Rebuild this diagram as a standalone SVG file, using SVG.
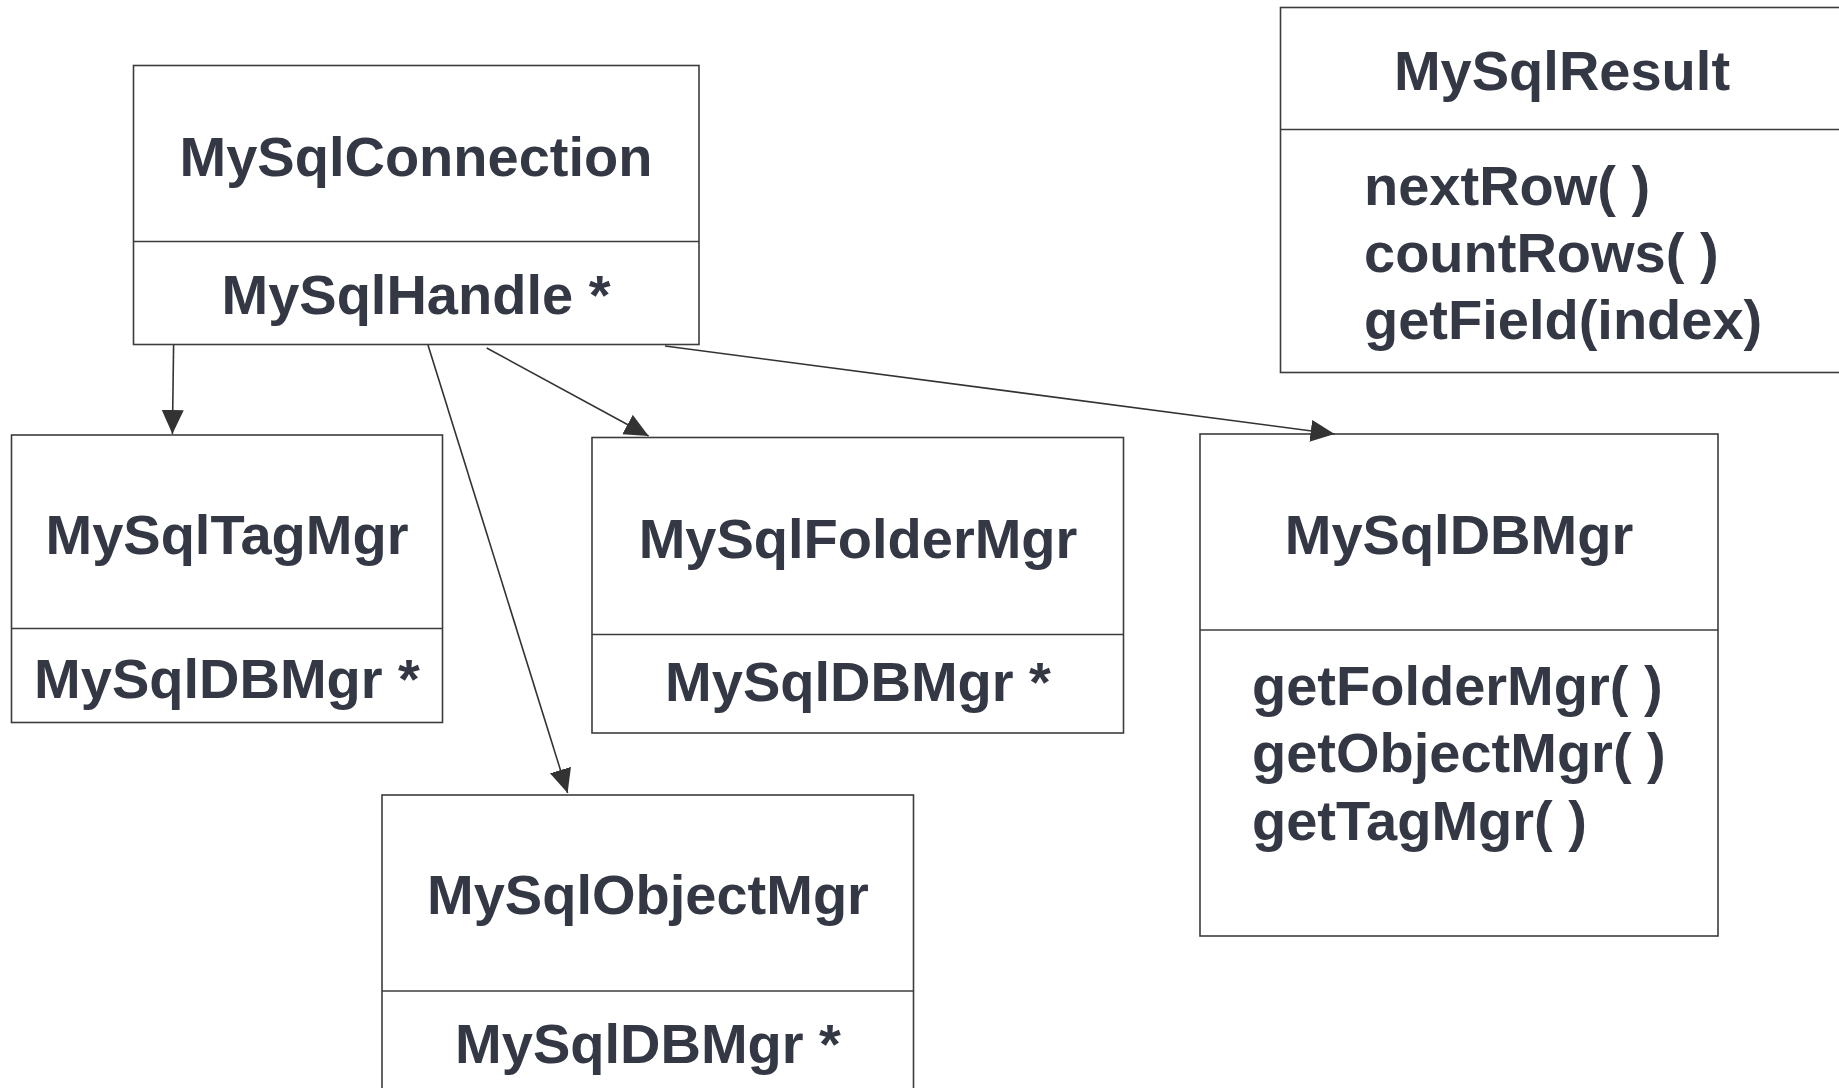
<svg xmlns="http://www.w3.org/2000/svg" width="1839" height="1088" viewBox="0 0 1839 1088">
  <style>
    .box { fill: #ffffff; stroke: #3c3c3c; stroke-width: 1.6; }
    .div { stroke: #3c3c3c; stroke-width: 1.6; }
    .t { font-family: "Liberation Sans", Arial, sans-serif; font-weight: bold; font-size: 56px; fill: #343844; }
    .c { text-anchor: middle; }
    .edge { stroke: #333333; stroke-width: 1.6; fill: none; marker-end: url(#arrow); }
  </style>
  <defs>
    <marker id="arrow" markerUnits="userSpaceOnUse" markerWidth="26" markerHeight="24" refX="24" refY="11" orient="auto">
      <path d="M0,0 L24,11 L0,22 Z" fill="#333333"/>
    </marker>
  </defs>
  <rect width="1839" height="1088" fill="#ffffff"/>

  <g id="MySqlConnection">
    <rect class="box" x="133.5" y="65.5" width="565.5" height="279"/>
    <line class="div" x1="133.5" y1="241.5" x2="699" y2="241.5"/>
    <text class="t c" x="416" y="176">MySqlConnection</text>
    <text class="t c" x="416" y="314">MySqlHandle *</text>
  </g>

  <g id="MySqlResult">
    <rect class="box" x="1280.5" y="7.5" width="600" height="365"/>
    <line class="div" x1="1280.5" y1="129.5" x2="1839" y2="129.5"/>
    <text class="t c" x="1562" y="90">MySqlResult</text>
    <text class="t" x="1364" y="205">nextRow( )</text>
    <text class="t" x="1364" y="272">countRows( )</text>
    <text class="t" x="1364" y="339">getField(index)</text>
  </g>

  <g id="MySqlTagMgr">
    <rect class="box" x="11.5" y="435" width="431" height="287.5"/>
    <line class="div" x1="11.5" y1="628.5" x2="442.5" y2="628.5"/>
    <text class="t c" x="227" y="554">MySqlTagMgr</text>
    <text class="t c" x="227" y="698">MySqlDBMgr *</text>
  </g>

  <g id="MySqlFolderMgr">
    <rect class="box" x="592" y="437.5" width="531.5" height="295.5"/>
    <line class="div" x1="592" y1="634.5" x2="1123.5" y2="634.5"/>
    <text class="t c" x="858" y="558">MySqlFolderMgr</text>
    <text class="t c" x="858" y="701">MySqlDBMgr *</text>
  </g>

  <g id="MySqlDBMgr">
    <rect class="box" x="1200" y="434" width="518" height="502"/>
    <line class="div" x1="1200" y1="630" x2="1718" y2="630"/>
    <text class="t c" x="1459" y="554">MySqlDBMgr</text>
    <text class="t" x="1252" y="705">getFolderMgr( )</text>
    <text class="t" x="1252" y="772">getObjectMgr( )</text>
    <text class="t" x="1252" y="840">getTagMgr( )</text>
  </g>

  <g id="MySqlObjectMgr">
    <rect class="box" x="382" y="795" width="531.5" height="320"/>
    <line class="div" x1="382" y1="991" x2="913.5" y2="991"/>
    <text class="t c" x="648" y="914">MySqlObjectMgr</text>
    <text class="t c" x="648" y="1063">MySqlDBMgr *</text>
  </g>

  <g id="connectors">
    <line class="edge" x1="173.6" y1="345" x2="172.4" y2="434"/>
    <line class="edge" x1="428" y1="345" x2="567.6" y2="793"/>
    <line class="edge" x1="486.7" y1="348" x2="648.6" y2="436"/>
    <line class="edge" x1="665" y1="346" x2="1334.6" y2="434"/>
  </g>
</svg>
